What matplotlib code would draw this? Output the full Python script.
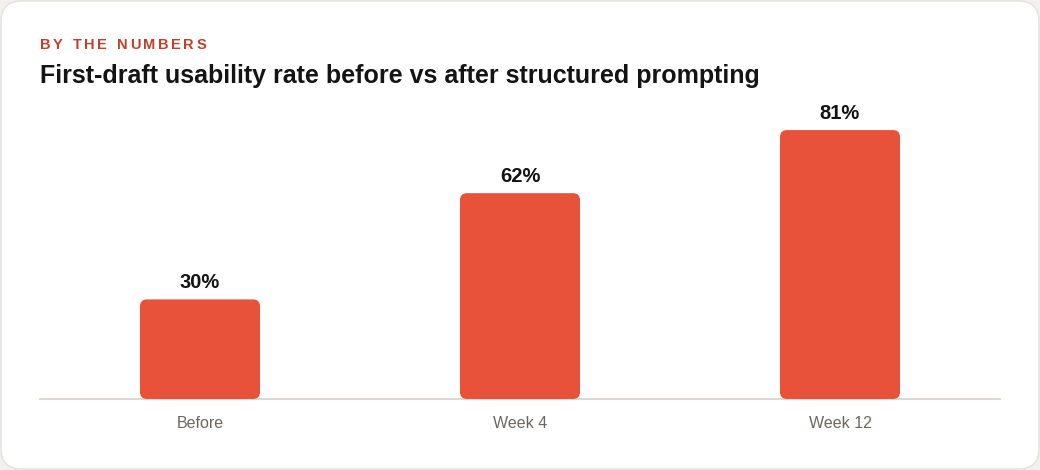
import matplotlib
matplotlib.use("Agg")
import matplotlib.pyplot as plt
from matplotlib.patches import FancyBboxPatch

# データ
categories = ["Before", "Week 4", "Week 12"]
rates = [30, 62, 81]

BAR_COLOR = "#e8513a"
KICKER_COLOR = "#c0412b"
TEXT_COLOR = "#141414"
TICK_COLOR = "#6b6660"
BASE_COLOR = "#dcd9d4"

plt.rcParams["font.family"] = ["Liberation Sans", "DejaVu Sans"]

W, H, DPI = 1040, 470, 100
fig = plt.figure(figsize=(W / DPI, H / DPI), dpi=DPI)
fig.patch.set_facecolor("#f2f1ef")

# カード背景
card = FancyBboxPatch((1 / W, 1 / H), 1 - 2 / W, 1 - 2 / H,
                      boxstyle="round,pad=0,rounding_size=0.02",
                      mutation_aspect=W / H,
                      transform=fig.transFigure, facecolor="white",
                      edgecolor="#e4e2de", linewidth=1.0, zorder=-10)
fig.patches.append(card)

# 軸
ax_left, ax_right = 40, 1000
ax_bottom, ax_top = 399, 67
ax = fig.add_axes([ax_left / W, (H - ax_bottom) / H,
                   (ax_right - ax_left) / W, (ax_bottom - ax_top) / H])
ax.set_zorder(5)
ax.set_facecolor("none")
ax.set_xlim(-0.5, len(categories) - 0.5)
ax.set_ylim(0, 100)

bar_w = 120 / 320
px_x = (len(categories)) / (ax_right - ax_left)  # data units per px (x)
px_y = 100 / (ax_bottom - ax_top)                # data units per px (y)
radius_px = 7
for i, v in enumerate(rates):
    patch = FancyBboxPatch((i - bar_w / 2, 0), bar_w, v,
                           boxstyle=f"round,pad=0,rounding_size={radius_px * px_x}",
                           mutation_aspect=px_y / px_x,
                           facecolor=BAR_COLOR, edgecolor="none", zorder=3)
    ax.add_patch(patch)
    ax.annotate(f"{v}%", (i, v), xytext=(0, 11), textcoords="offset pixels",
                ha="center", va="baseline", fontsize=14.5, fontweight="bold",
                color=TEXT_COLOR)

# ベースライン
ax.axhline(0, color=BASE_COLOR, linewidth=1.5, zorder=2, clip_on=False)
ax.set_xticks(range(len(categories)))
ax.set_xticklabels(categories, fontsize=11.5, color=TICK_COLOR)
ax.tick_params(axis="x", length=0, pad=12)
ax.set_yticks([])
for s in ax.spines.values():
    s.set_visible(False)

# タイトル
fig.text(40 / W, 1 - 76 / H, "First-draft usability rate before vs after structured prompting",
         fontsize=18, fontweight="bold", color=TEXT_COLOR, va="center", ha="left")

# キッカー（字間を広げて一文字ずつ描画）
kicker = "BY THE NUMBERS"
renderer = fig.canvas.get_renderer()
x = 40
for ch in kicker:
    t = fig.text(x / W, 1 - 45 / H, ch, fontsize=10.5, fontweight="bold",
                 color=KICKER_COLOR, va="center", ha="left")
    if ch == " ":
        w = 4.5
    else:
        w = t.get_window_extent(renderer).width
    x += w + 2.6

fig.savefig("out.png", dpi=DPI, facecolor=fig.get_facecolor())
